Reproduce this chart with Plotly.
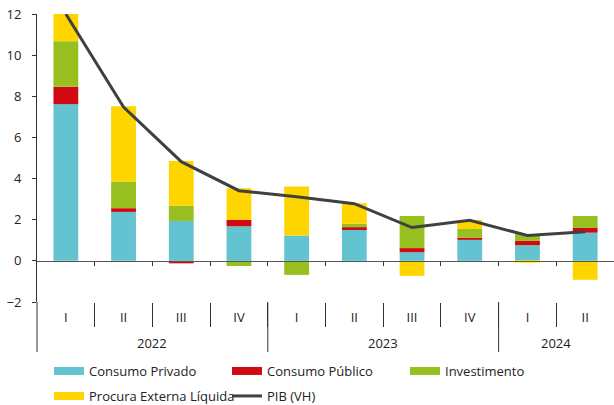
import plotly.graph_objects as go

years = ["2022"] * 4 + ["2023"] * 4 + ["2024"] * 2
quarters = ["I", "II", "III", "IV", "I", "II", "III", "IV", "I", "II"]

consumo_privado = [7.62, 2.38, 1.94, 1.68, 1.23, 1.50, 0.42, 1.02, 0.76, 1.37]
consumo_publico = [0.84, 0.18, -0.12, 0.31, 0.00, 0.14, 0.20, 0.11, 0.21, 0.23]
investimento = [2.22, 1.29, 0.74, -0.25, -0.68, 0.16, 1.56, 0.42, 0.33, 0.58]
procura_externa = [1.35, 3.66, 2.17, 1.54, 2.39, 1.00, -0.73, 0.44, -0.08, -0.92]
pib = [12.0, 7.48, 4.82, 3.41, 3.12, 2.78, 1.62, 1.97, 1.23, 1.41]

FONT = "Open Sans"
n = len(quarters)
pos = list(range(n))
boundaries = [i + 0.5 for i in range(n - 1)]

W, H = 614, 405
ML, MR, MT, MB = 37, 0, 14, 103
PLOT_H = H - MT - MB

fig = go.Figure()
series = [
    ("Consumo Privado", consumo_privado, "#63C3D1", "legend"),
    ("Consumo Público", consumo_publico, "#D10A11", "legend"),
    ("Investimento", investimento, "#97BF1F", "legend"),
    ("Procura Externa Líquida", procura_externa, "#FFD500", "legend2"),
]
for name, vals, col, lg in series:
    fig.add_trace(go.Bar(x=pos, y=vals, name=name, showlegend=False, legendgroup=name,
                         marker=dict(color=col, line=dict(width=0))))

fig.add_trace(go.Scatter(x=pos, y=pib, name="PIB (VH)", mode="lines", showlegend=False,
                         legendgroup="PIB", line=dict(color="#404040", width=3)))

# legend entries (flat colour swatches like the original)
for name, vals, col, lg in series:
    fig.add_trace(go.Scatter(x=[None], y=[None], mode="lines", name=name, legend=lg,
                             legendgroup=name, line=dict(color=col, width=8),
                             hoverinfo="skip"))
fig.add_trace(go.Scatter(x=[None], y=[None], mode="lines", name="PIB (VH)", legend="legend2",
                         legendgroup="PIB", line=dict(color="#404040", width=3),
                         hoverinfo="skip"))

# helper trace so the zero-level axis is drawn
fig.add_trace(go.Scatter(x=[0], y=[0], xaxis="x2", mode="none", showlegend=False, hoverinfo="skip"))

# year labels and year dividers
year_list = []
for yv in years:
    if yv not in year_list:
        year_list.append(yv)
for yv in year_list:
    idx = [i for i, v in enumerate(years) if v == yv]
    fig.add_annotation(x=sum(idx) / len(idx), y=-41 / PLOT_H, xref="x", yref="paper",
                       text=yv, showarrow=False, yanchor="middle",
                       font=dict(family=FONT, size=13, color="#222222"))
    left = idx[0] / n
    fig.add_shape(type="line", xref="paper", yref="paper", x0=left, x1=left,
                  y0=0, y1=-50 / PLOT_H, line=dict(color="#333333", width=1))

fig.update_layout(
    width=W, height=H,
    margin=dict(l=ML, r=MR, t=MT, b=MB),
    paper_bgcolor="white", plot_bgcolor="white",
    barmode="relative", bargap=0.57,
    font=dict(family=FONT, size=13, color="#222222"),
    showlegend=True,
    legend=dict(orientation="h", xref="container", yref="container",
                x=0.0798, xanchor="left", y=0.121, yanchor="top",
                entrywidth=133, entrywidthmode="pixels", traceorder="normal",
                font=dict(size=13), itemwidth=30),
    legend2=dict(orientation="h", xref="container", yref="container",
                 x=0.0798, xanchor="left", y=0.0593, yanchor="top",
                 entrywidth=133, entrywidthmode="pixels", traceorder="normal",
                 font=dict(size=13), itemwidth=30),
    xaxis=dict(range=[-0.5, n - 0.5], tickvals=pos, ticktext=quarters,
               showline=False, showgrid=False, zeroline=False,
               ticks="", ticklabelstandoff=6, automargin=False,
               minor=dict(tickvals=boundaries, ticks="outside", ticklen=24,
                          tickcolor="#333333", showgrid=False),
               tickfont=dict(size=13)),
    xaxis2=dict(overlaying="x", anchor="free", position=2 / 14, range=[-0.5, n - 0.5],
                showline=True, linecolor="#555555", linewidth=1,
                tickvals=boundaries,
                ticks="outside", ticklen=4, tickcolor="#333333",
                showticklabels=False, showgrid=False, zeroline=False),
    yaxis=dict(range=[-2, 12], tickvals=[-2, 0, 2, 4, 6, 8, 10, 12],
               showline=True, linecolor="#333333", linewidth=1,
               ticks="outside", ticklen=4, tickcolor="#333333", automargin=False,
               ticklabelstandoff=8, ticklabeloverflow="allow",
               showgrid=False, zeroline=False, tickfont=dict(size=13)),
)

fig.write_html("out.html",
               config={"displayModeBar": False},
               post_script="document.body.style.margin='0';document.body.style.overflow='hidden';")
